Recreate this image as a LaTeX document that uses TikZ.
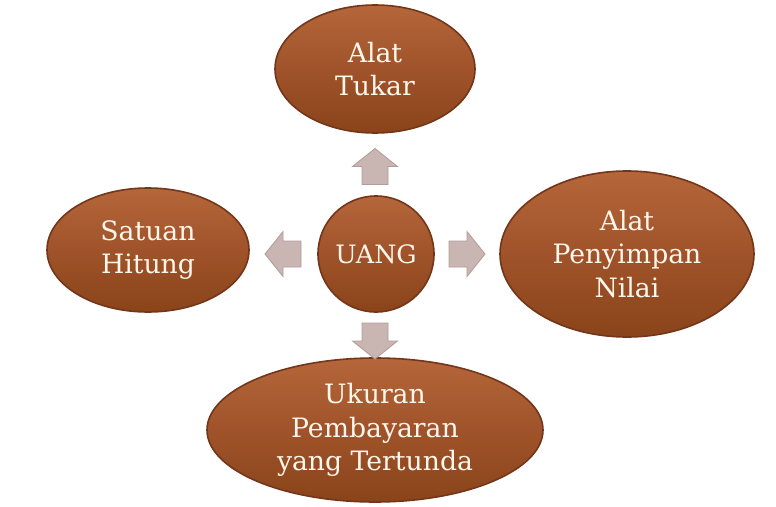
\documentclass[tikz,border=0pt]{standalone}
\usepackage{fontspec}
\setmainfont{DejaVu Serif}
\usetikzlibrary{shapes.geometric}
\definecolor{brownTop}{HTML}{B5663A}
\definecolor{brownMid}{HTML}{A0532A}
\definecolor{brownBot}{HTML}{8A4419}
\definecolor{brownEdge}{HTML}{73361A}
\definecolor{txt}{HTML}{FFF6EC}
\definecolor{arrFill}{HTML}{C9B6B2}
\definecolor{arrEdge}{HTML}{B09C98}
\tikzset{
  bubble/.style={ellipse, draw=brownEdge, line width=1.2pt, top color=brownTop, bottom color=brownBot, middle color=brownMid,
    text=txt, align=center, font=\fontsize{20pt}{25pt}\selectfont, inner sep=0pt},
  blockarr/.pic={\draw[fill=arrFill, draw=arrEdge, line width=0.6pt]
    (-18,-13) -- (0,-13) -- (0,-22.5) -- (18,0) -- (0,22.5) -- (0,13) -- (-18,13) -- cycle;}
}
\begin{document}
\begin{tikzpicture}[x=0.75pt,y=-0.75pt]
\useasboundingbox (0,0) rectangle (776,507);
\node[bubble, circle, minimum size=87pt, font=\fontsize{19pt}{24pt}\selectfont] (uang) at (376,254) {UANG};
\node[bubble, minimum width=150pt, minimum height=96pt] (tukar) at (375,69) {Alat\\Tukar};
\node[bubble, minimum width=151.5pt, minimum height=93pt] (satuan) at (148,250) {Satuan\\Hitung};
\node[bubble, minimum width=190.5pt, minimum height=124.5pt] (nilai) at (627,254) {Alat\\Penyimpan\\Nilai};
\node[bubble, minimum width=252pt, minimum height=108pt] (ukuran) at (375,430) {Ukuran\\Pembayaran\\yang Tertunda};
\pic[rotate=90] at (375,166.5) {blockarr};
\pic[rotate=-90] at (375,341) {blockarr};
\pic[rotate=180] at (283,254) {blockarr};
\pic at (467,254) {blockarr};
\end{tikzpicture}
\end{document}
